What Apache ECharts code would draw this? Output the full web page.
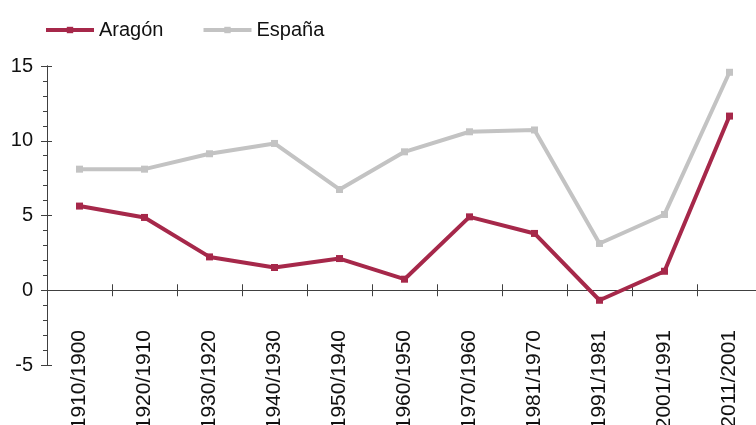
<!DOCTYPE html>
<html><head><meta charset="utf-8">
<script src="https://cdn.jsdelivr.net/npm/echarts@6/dist/echarts.min.js"></script>
<style>html,body{margin:0;padding:0;background:#fff}#c{width:756px;height:425px}</style>
</head><body><div id="c"></div>
<script>
const categories = ['1910/1900','1920/1910','1930/1920','1940/1930','1950/1940','1960/1950','1970/1960','1981/1970','1991/1981','2001/1991','2011/2001'];
const aragon = [5.63, 4.87, 2.23, 1.52, 2.12, 0.74, 4.91, 3.8, -0.67, 1.27, 11.65];
const espana = [8.1, 8.1, 9.13, 9.82, 6.74, 9.26, 10.6, 10.72, 3.13, 5.07, 14.58];
const yTicks = {min: -5, max: 15, interval: 5};

const FONT = 'Liberation Sans, Arial, sans-serif';
const AXIS = '#404040';
const chart = echarts.init(document.getElementById('c'));
chart.setOption({
  animation: false,
  textStyle: {fontFamily: FONT},
  legend: {
    left: 39, top: 15, itemWidth: 48, itemHeight: 8, itemGap: 38,
    lineStyle: {width: 4},
    textStyle: {fontSize: 20, color: '#111', fontFamily: FONT},
    data: ['Aragón', 'España']
  },
  grid: {left: 47, right: -6, top: 66, bottom: 60, containLabel: false, outerBoundsMode: 'none'},
  xAxis: [{
    type: 'category', data: categories, position: 'bottom',
    axisLine: {onZero: true, lineStyle: {color: AXIS, width: 1}},
    axisTick: {show: true, interval: 0, length: 6, lineStyle: {color: AXIS}},
    axisLabel: {rotate: 90, margin: -35, fontSize: 21, color: '#111', fontFamily: FONT, interval: 0},
    splitLine: {show: false}
  }, {
    type: 'category', data: categories, position: 'bottom', gridIndex: 0,
    axisLine: {show: true, onZero: true, lineStyle: {color: AXIS, width: 1}},
    axisTick: {show: true, interval: 0, inside: true, length: 6, lineStyle: {color: AXIS}},
    axisLabel: {show: false}, splitLine: {show: false}
  }],
  yAxis: [{
    type: 'value', min: yTicks.min, max: yTicks.max, interval: yTicks.interval,
    axisLine: {show: true, lineStyle: {color: AXIS}},
    axisTick: {show: true, length: 6, lineStyle: {color: AXIS}},
    minorTick: {show: true, splitNumber: 5, length: 4, lineStyle: {color: AXIS}},
    axisLabel: {fontSize: 20, color: '#111', margin: 14, fontFamily: FONT},
    splitLine: {show: false}
  }, {
    type: 'value', min: yTicks.min, max: yTicks.max, interval: yTicks.interval, position: 'left', offset: 0, gridIndex: 0,
    axisLine: {show: true, lineStyle: {color: AXIS}},
    axisTick: {show: true, inside: true, length: 5, lineStyle: {color: AXIS}},
    axisLabel: {show: false}, splitLine: {show: false}
  }],
  series: [{
    name: 'España', type: 'line', data: espana,
    symbol: 'rect', symbolSize: 7, color: '#c3c3c3',
    lineStyle: {width: 4, color: '#c3c3c3'}, itemStyle: {color: '#c3c3c3'}
  }, {
    name: 'Aragón', type: 'line', data: aragon,
    symbol: 'rect', symbolSize: 7, color: '#a6284a',
    lineStyle: {width: 4, color: '#a6284a'}, itemStyle: {color: '#a6284a'}
  }, {
    name: 'ticks', type: 'line', data: [], xAxisIndex: 1, yAxisIndex: 1, silent: true
  }]
});
</script></body></html>
